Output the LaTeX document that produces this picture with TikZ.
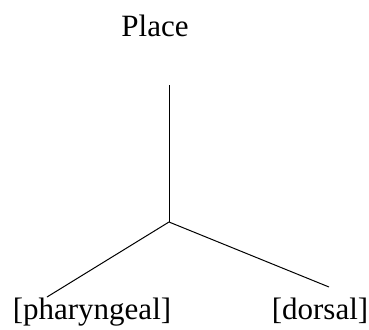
\documentclass[tikz,border=0pt]{standalone}
\usepackage{fontspec}
\setmainfont{Liberation Serif}
\begin{document}
\begin{tikzpicture}[x=1pt,y=-1pt,
  label/.style={inner sep=0pt,anchor=base,font=\fontsize{31}{36}\selectfont},
  branch/.style={line width=1pt}]
\useasboundingbox (0,0) rectangle (369,329);
% labels
\node[label] (place) at (155,36.7) {Place};
\node[label] (phar) at (92,319) {[pharyngeal]};
\node[label] (dors) at (320,319) {[dorsal]};
% tree branches
\coordinate (top) at (169,85);
\coordinate (join) at (169,222);
\coordinate (lend) at (47,297);
\coordinate (rend) at (329,287);
\draw[branch] (top) -- (join);
\draw[branch] (join) -- (lend);
\draw[branch] (join) -- (rend);
\end{tikzpicture}
\end{document}
